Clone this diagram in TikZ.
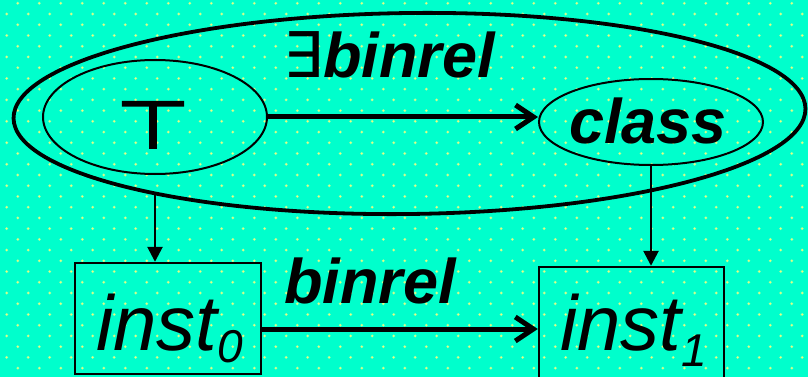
\documentclass[tikz,border=0pt]{standalone}
\usepackage{fontspec}
\setmainfont{Liberation Sans}
\newfontfamily\symfont{DejaVu Sans}
\newfontfamily\symbold[FakeBold=2.5]{DejaVu Sans}
\usetikzlibrary{shapes.geometric,arrows.meta}
\definecolor{bgteal}{RGB}{0,255,204}
\definecolor{dotglow}{RGB}{140,255,170}
\definecolor{dotcore}{RGB}{240,255,120}
\begin{document}
\begin{tikzpicture}[x=1pt,y=-1pt,
  conc/.style={draw, ellipse, inner sep=0pt, line width=2pt},
  instbox/.style={draw, rectangle, inner sep=0pt, line width=2.4pt},
  rel/.style={line width=5pt, -{Straight Barb[length=18pt,width=24pt]}},
  sub/.style={line width=2.6pt, -{Triangle[length=15pt,width=15pt]}},
  lbl/.style={inner sep=0pt, anchor=base west, font=\fontsize{63}{70}\selectfont\bfseries\itshape},
  insttext/.style={inner sep=0pt, anchor=base west, font=\fontsize{78}{80}\selectfont\itshape}]
\useasboundingbox (0,0) rectangle (808,377);
% dotted teal background
\fill[bgteal] (0,0) rectangle (808,377);
\foreach \j in {0,...,35}{
  \pgfmathsetmacro{\yy}{3.3+10.73*\j}
  \pgfmathsetmacro{\xo}{ifthenelse(mod(\j,2)==0,17.8,6.7)}
  \foreach \k in {0,...,37}{
    \fill[dotglow] (\xo+21.5*\k,\yy) circle[radius=1.6pt];
    \fill[dotcore] (\xo+21.5*\k,\yy) circle[radius=0.9pt];
  }
}
% concepts
\node[conc, line width=3.8pt, minimum width=792pt, minimum height=201pt, rotate=0.7] (outer) at (409.5,113.5) {};
\node[conc, minimum width=224pt, minimum height=114pt] (top) at (155,117) {};
\node[conc, minimum width=224pt, minimum height=86pt] (cls) at (651,122) {};
% instances
\node[instbox, minimum width=186pt, minimum height=111pt] (inst0) at (168,318.5) {};
\node[instbox, minimum width=185pt, minimum height=116pt] (inst1) at (631.5,325) {};
% texts
\node[inner sep=0pt, anchor=base, xscale=1.3, font=\symbold\fontsize{66}{70}\selectfont] (topsym) at (153,148) {⊤};
\node[lbl] (clstext) at (569,143) {class};
\node[lbl] (exlbl) at (283,78) {{\mdseries\upshape\symfont ∃}binrel};
\node[lbl] (rellbl) at (284,303) {binrel};
\node[insttext] (i0text) at (96,350) {inst\raisebox{-12pt}{\fontsize{46}{48}\selectfont 0}};
\node[insttext] (i1text) at (560,350) {inst\raisebox{-16pt}{\fontsize{46}{48}\selectfont 1}};
% connectors
\draw[rel] (top.east) -- (top.east -| cls.west);
\coordinate (lowy) at (0,329);
\draw[rel] (inst0.east |- lowy) -- (inst1.west |- lowy);
\coordinate (supfoot) at (155,192);
\draw[sub] (supfoot) -- (supfoot |- inst0.north);
\draw[sub] (cls.south) -- (cls.south |- inst1.north);
\end{tikzpicture}
\end{document}
